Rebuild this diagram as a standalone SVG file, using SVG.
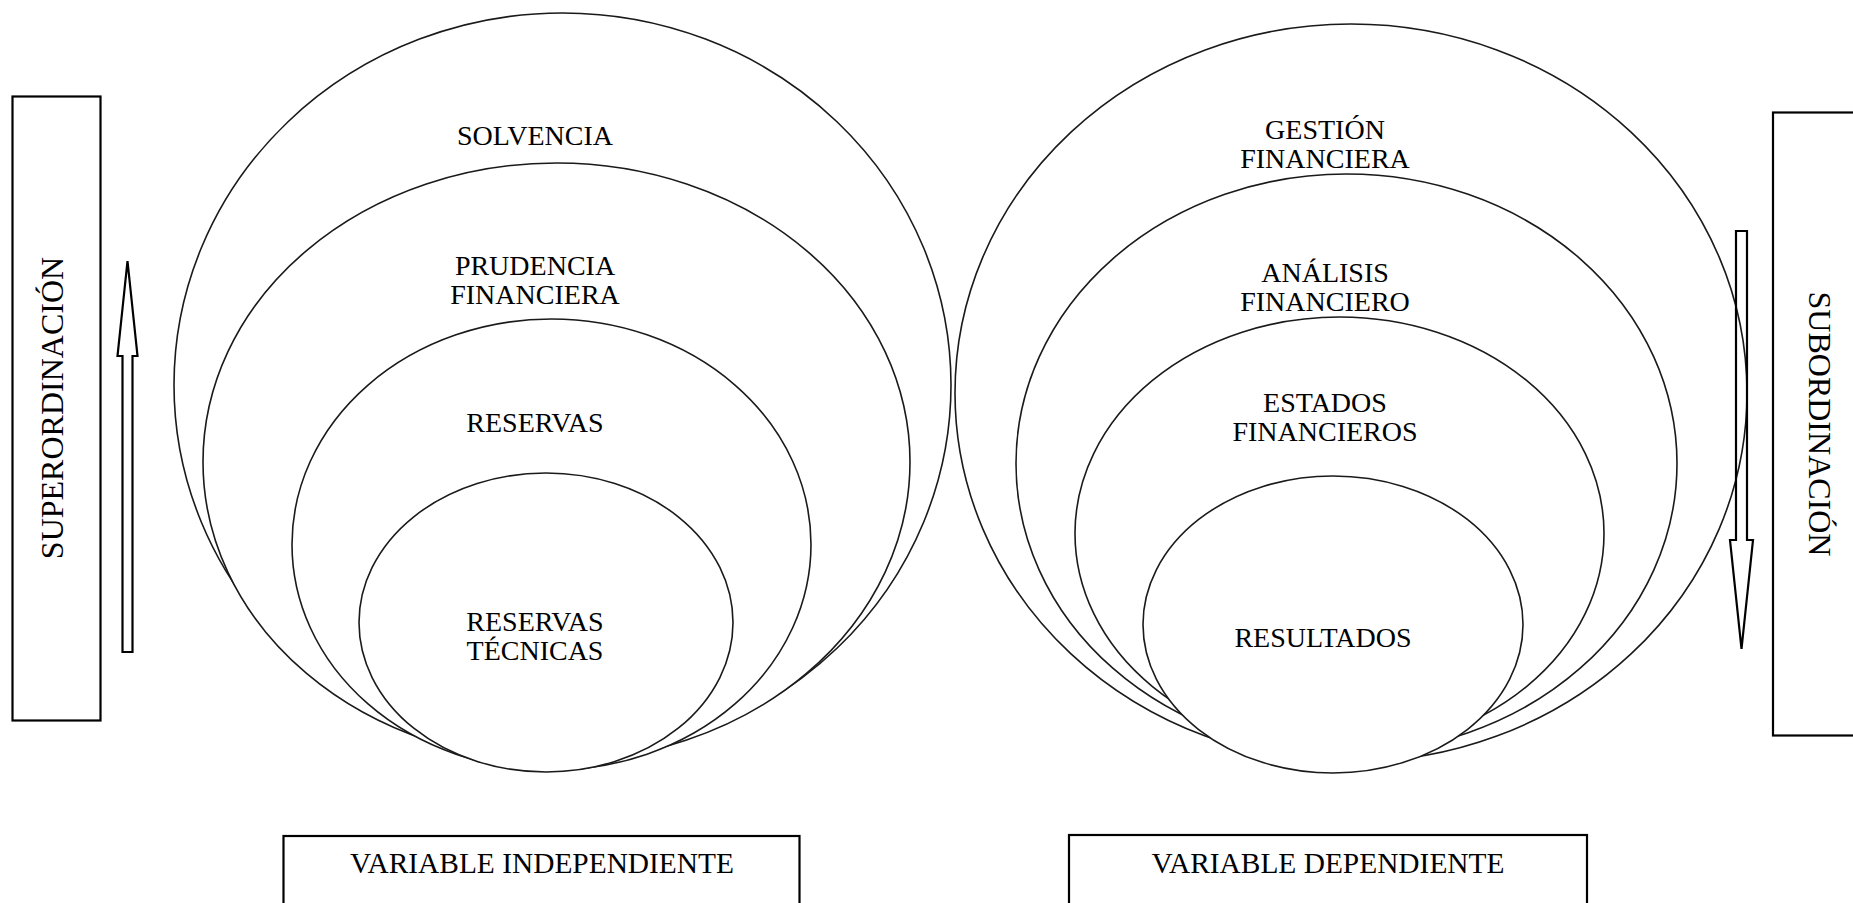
<svg xmlns="http://www.w3.org/2000/svg" width="1853" height="903" viewBox="0 0 1853 903">
<style>
.bg{fill:#ffffff}
.ell{fill:#ffffff;stroke:#1a1a1a;stroke-width:1.6}
.box{fill:#ffffff;stroke:#000000;stroke-width:2.2}
.arr{fill:#ffffff;stroke:#000000;stroke-width:2.2;stroke-linejoin:miter}
.t{font-family:"Liberation Serif","Times New Roman",serif;font-size:28px;fill:#000000;text-anchor:middle}
.tb{font-family:"Liberation Serif","Times New Roman",serif;font-size:29.4px;fill:#000000;text-anchor:middle}
.tv{font-family:"Liberation Serif","Times New Roman",serif;font-size:32px;fill:#000000;text-anchor:middle}
</style>
<rect class="bg" x="0" y="0" width="1853" height="903"/>

<g id="superordinacion">
<rect class="box" x="12.5" y="96.5" width="88" height="624"/>
<text class="tv" transform="translate(63,408) rotate(-90)">SUPERORDINACIÓN</text>
</g>

<g id="subordinacion">
<rect class="box" x="1773" y="112.5" width="90" height="623"/>
<text class="tv" transform="translate(1809,424) rotate(90)">SUBORDINACIÓN</text>
</g>

<g id="solvencia">
<ellipse class="ell" cx="562.5" cy="385" rx="388.5" ry="372"/>
<text class="t" x="535" y="145">SOLVENCIA</text>
</g>
<g id="prudencia-financiera">
<ellipse class="ell" cx="556.5" cy="462" rx="353.5" ry="299"/>
<text class="t" x="535" y="275">PRUDENCIA</text>
<text class="t" x="535" y="304">FINANCIERA</text>
</g>
<g id="reservas">
<ellipse class="ell" cx="551.5" cy="544.5" rx="259.5" ry="225.5"/>
<text class="t" x="535" y="432">RESERVAS</text>
</g>
<g id="reservas-tecnicas">
<ellipse class="ell" cx="546" cy="622.5" rx="187" ry="149.5"/>
<text class="t" x="535" y="631">RESERVAS</text>
<text class="t" x="535" y="660">TÉCNICAS</text>
</g>

<g id="gestion-financiera">
<ellipse class="ell" cx="1351" cy="393" rx="396" ry="369"/>
<text class="t" x="1325" y="139">GESTIÓN</text>
<text class="t" x="1325" y="168">FINANCIERA</text>
</g>
<g id="analisis-financiero">
<ellipse class="ell" cx="1346.5" cy="463.5" rx="330.5" ry="289.5"/>
<text class="t" x="1325" y="282">ANÁLISIS</text>
<text class="t" x="1325" y="311">FINANCIERO</text>
</g>
<g id="estados-financieros">
<ellipse class="ell" cx="1339.5" cy="533.5" rx="264.5" ry="216.5"/>
<text class="t" x="1325" y="412">ESTADOS</text>
<text class="t" x="1325" y="441">FINANCIEROS</text>
</g>
<g id="resultados">
<ellipse class="ell" cx="1333" cy="624.5" rx="190" ry="148.5"/>
<text class="t" x="1323" y="647">RESULTADOS</text>
</g>

<g id="connectors">
<polygon class="arr" points="127.5,261 137.5,356 132.5,356 132.5,652 122.5,652 122.5,356 117.5,356"/>
<polygon class="arr" points="1736,231 1747,231 1747,540 1753,540 1741.5,649 1730,540 1736,540" style="fill:none"/>
</g>

<g id="variable-independiente">
<rect class="box" x="283.5" y="836" width="516" height="80"/>
<text class="tb" x="542" y="873">VARIABLE INDEPENDIENTE</text>
</g>
<g id="variable-dependiente">
<rect class="box" x="1069" y="835" width="518" height="80"/>
<text class="tb" x="1328" y="873">VARIABLE DEPENDIENTE</text>
</g>
</svg>
